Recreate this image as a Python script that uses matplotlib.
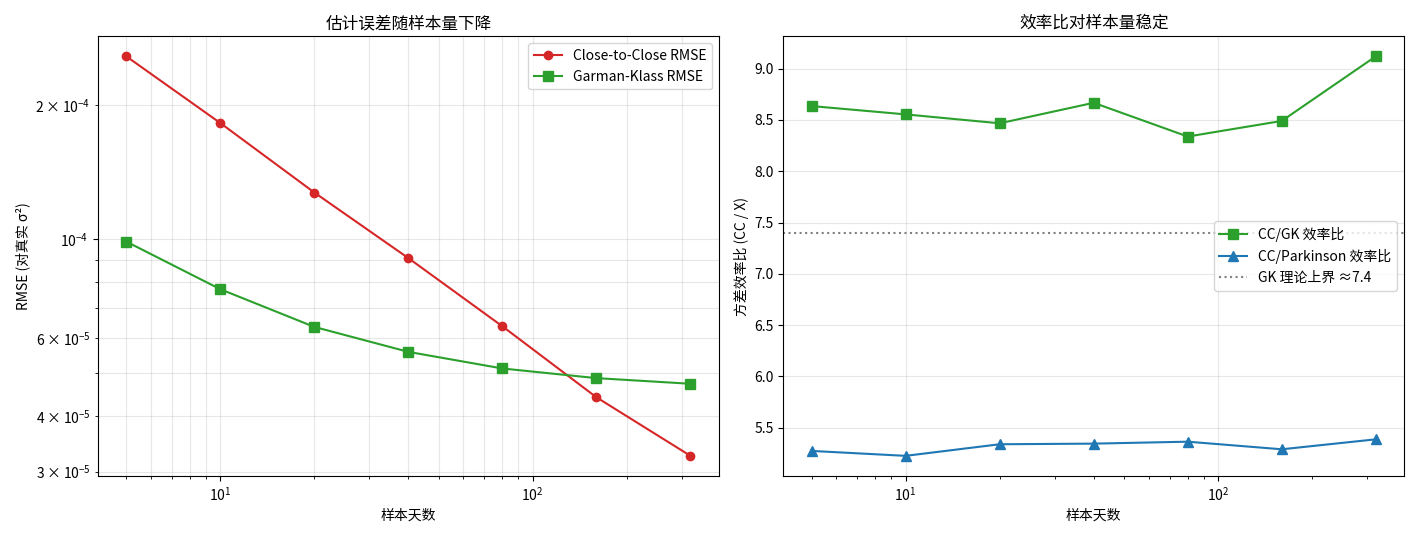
import matplotlib as mpl
mpl.use('Agg')
import matplotlib.pyplot as plt
import numpy as np

plt.rcParams['font.family'] = ['Noto Sans CJK SC', 'DejaVu Sans']
plt.rcParams['axes.unicode_minus'] = False

days = [5, 10, 20, 40, 80, 160, 320]
cc_rmse = [2.58e-4, 1.826e-4, 1.274e-4, 9.07e-5, 6.37e-5, 4.41e-5, 3.256e-5]
gk_rmse = [9.88e-5, 7.72e-5, 6.35e-5, 5.58e-5, 5.12e-5, 4.87e-5, 4.73e-5]

eff_gk = [8.635, 8.554, 8.467, 8.667, 8.338, 8.49, 9.12]
eff_park = [5.274, 5.226, 5.339, 5.345, 5.364, 5.29, 5.387]
gk_theory = 7.4

fig, (ax1, ax2) = plt.subplots(1, 2, figsize=(14.19, 5.38), dpi=100)

ax1.loglog(days, cc_rmse, 'o-', color='#d62728', ms=6, lw=1.5, label='Close-to-Close RMSE')
ax1.loglog(days, gk_rmse, 's-', color='#2ca02c', ms=7, lw=1.5, label='Garman-Klass RMSE')
ax1.set_title('估计误差随样本量下降')
ax1.set_xlabel('样本天数')
ax1.set_ylabel('RMSE (对真实 σ²)')
ax1.grid(True, which='both', alpha=0.3)
ax1.legend(loc='upper right')

ax2.semilogx(days, eff_gk, 's-', color='#2ca02c', ms=7, lw=1.5, label='CC/GK 效率比')
ax2.semilogx(days, eff_park, '^-', color='#1f77b4', ms=7, lw=1.5, label='CC/Parkinson 效率比')
ax2.axhline(gk_theory, color='gray', ls=':', lw=1.5, label='GK 理论上界 ≈7.4')
ax2.set_title('效率比对样本量稳定')
ax2.set_xlabel('样本天数')
ax2.set_ylabel('方差效率比 (CC / X)')
ax2.grid(True, alpha=0.3)
ax2.legend(loc='center right')

plt.tight_layout()
plt.savefig('out.png')
